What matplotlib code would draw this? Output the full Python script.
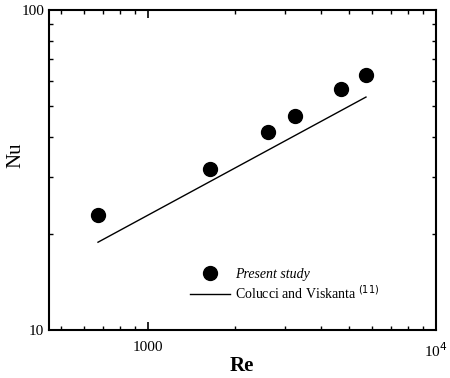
import numpy as np
import matplotlib
matplotlib.use("Agg")
from matplotlib import pyplot as plt
from matplotlib.ticker import LogLocator, FixedLocator, NullFormatter

plt.rcParams['font.family'] = ['Liberation Serif', 'DejaVu Serif']

# measured data
re_exp = [670, 1640, 2610, 3240, 4680, 5710]
nu_exp = [22.9, 31.9, 41.6, 46.6, 56.6, 62.7]

# Colucci and Viskanta correlation
re_corr = [670, 5710]
nu_corr = [18.8, 53.4]

fig = plt.figure(figsize=(4.5, 3.78), dpi=100)
ax = fig.add_axes([0.109, 0.127, 0.860, 0.847])

ax.plot(re_exp, nu_exp, "o", color="black", markersize=10, label="Present study")
ax.plot(re_corr, nu_corr, "-", color="black", linewidth=1.0,
        label="Colucci and Viskanta $^{(11)}$")

ax.set_xscale("log")
ax.set_yscale("log")
ax.set_xlim(453, 10000)
ax.set_ylim(10, 100)

ax.xaxis.set_major_locator(FixedLocator([1000, 10000]))
ax.set_xticklabels(["1000", "10$^4$"])
ax.xaxis.set_minor_locator(LogLocator(base=10, subs=np.arange(2, 10)))
ax.xaxis.set_minor_formatter(NullFormatter())
ax.yaxis.set_major_locator(FixedLocator([10, 100]))
ax.set_yticklabels(["10", "100"])
ax.yaxis.set_minor_locator(LogLocator(base=10, subs=np.arange(2, 10)))
ax.yaxis.set_minor_formatter(NullFormatter())

ax.tick_params(which="both", direction="in", top=True, right=True, labelsize=11)
ax.tick_params(which="major", length=6, width=1.2)
ax.tick_params(which="minor", length=3, width=1.0)
ax.tick_params(axis="x", pad=8)
for s in ax.spines.values():
    s.set_linewidth(1.5)

ax.set_xlabel("Re", fontsize=15, fontweight="bold")
ax.xaxis.set_label_coords(0.499, -0.08)
ax.set_ylabel("Nu", fontsize=15)
ax.yaxis.set_label_coords(-0.062, 0.547)

leg = ax.legend(loc="lower left", bbox_to_anchor=(0.332, 0.05), frameon=False,
                fontsize=10, handlelength=2.9, handletextpad=0.36, labelspacing=0.2)
leg.get_texts()[0].set_fontstyle("italic")

fig.savefig("out.png", dpi=100)
